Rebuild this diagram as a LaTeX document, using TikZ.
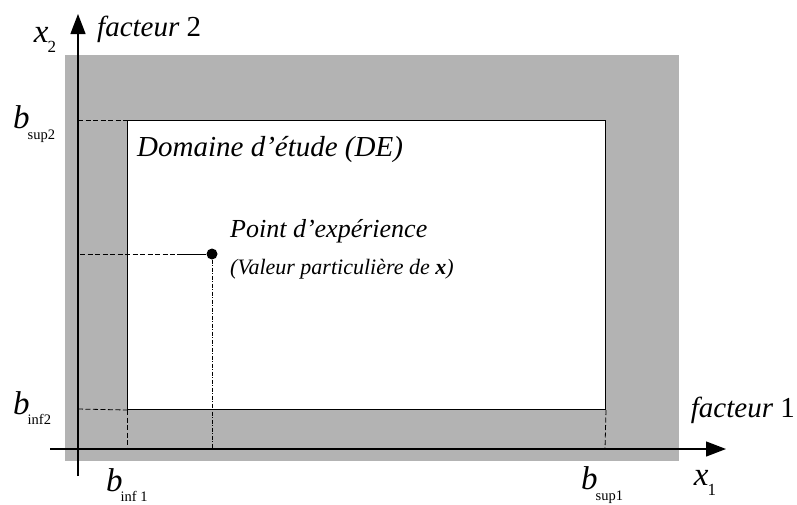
\documentclass[tikz,border=0pt]{standalone}
\usepackage{fontspec}
\setmainfont{Liberation Serif}
\usetikzlibrary{arrows.meta}
\definecolor{zone}{RGB}{179,179,179}
\tikzset{
  axis/.style={line width=1.3pt,-{Triangle[length=20pt,width=15pt]}},
  guide/.style={line width=0.8pt,dash pattern=on 5pt off 2.5pt},
  guidedot/.style={line width=0.8pt,dash pattern=on 4pt off 1.5pt on 1pt off 1.5pt},
  lbl/.style={inner sep=0pt,font=\itshape},
}
\newcommand{\bsub}[1]{\textit{b}\kern-2pt\raisebox{-0.32em}{\fontsize{14.5}{15}\selectfont\upshape #1}}
\begin{document}
\begin{tikzpicture}[x=1pt,y=-1pt]
\useasboundingbox (0,0) rectangle (797,504);
\fill[zone] (65,55) rectangle (679,461);
\node[draw=black,line width=1pt,fill=white,minimum width=478pt,minimum height=289pt,anchor=north west,inner sep=0pt] (de) at (127,120) {};
% axes
\coordinate (yb) at (78,476);
\coordinate (yt) at (78,14);
\coordinate (xl) at (50,449);
\coordinate (xr) at (726,449);
\draw[axis] (yb) -- (yt);
\draw[axis] (xl) -- (xr);
% guides
\coordinate (s2) at (78,120);
\coordinate (i2) at (78,409);
\coordinate (i1) at (127,449);
\coordinate (s1) at (605,449);
\draw[guide] (s2) -- (de.north west);
\draw[guide] (i2) -- (de.south west);
\draw[guide] (de.south west) -- (i1);
\draw[guide] (de.south east) -- (s1);
% point
\node[circle,fill=black,inner sep=0pt,minimum size=11pt] (pt) at (212,254) {};
\coordinate (ph) at (80,254);
\coordinate (pm) at (177,254);
\coordinate (pv) at (212,449);
\draw[guide] (ph) -- (pm);
\draw[line width=0.9pt] (pm) -- (pt);
\draw[guidedot] (pt) -- (pv);
% labels
\node[lbl,font=\itshape\fontsize{33}{34}\selectfont] (x2) at (45,40) {x\kern-1pt\raisebox{-0.3em}{\fontsize{17}{18}\selectfont\upshape 2}};
\node[lbl,font=\itshape\fontsize{29}{30}\selectfont,anchor=west] (f2) at (97,29) {facteur \upshape 2};
\node[lbl,font=\itshape\fontsize{29}{30}\selectfont,anchor=east] (f1) at (795,410) {facteur \upshape 1};
\node[lbl,font=\itshape\fontsize{33}{34}\selectfont] (x1) at (705,483) {x\kern-1pt\raisebox{-0.3em}{\fontsize{17}{18}\selectfont\upshape 1}};
\node[lbl,font=\fontsize{33}{33}\selectfont,anchor=west] (bs2) at (13,124) {\bsub{sup2}};
\node[lbl,font=\fontsize{33}{33}\selectfont,anchor=west] (bi2) at (13,408) {\bsub{inf2}};
\node[lbl,font=\fontsize{33}{33}\selectfont,anchor=west] (bi1) at (106,485) {\bsub{inf 1}};
\node[lbl,font=\fontsize{33}{33}\selectfont,anchor=west] (bs1) at (581,485) {\bsub{sup1}};
\node[lbl,font=\itshape\fontsize{29}{30}\selectfont,anchor=west] (tde) at (137,150) {Domaine d'étude (DE)};
\node[lbl,font=\itshape\fontsize{26}{28}\selectfont,anchor=west] (tpt) at (230,231) {Point d'expérience};
\node[lbl,font=\itshape\fontsize{22}{24}\selectfont,anchor=west] (tval) at (230,269) {(Valeur particulière de \textbf{x})};
\end{tikzpicture}
\end{document}
